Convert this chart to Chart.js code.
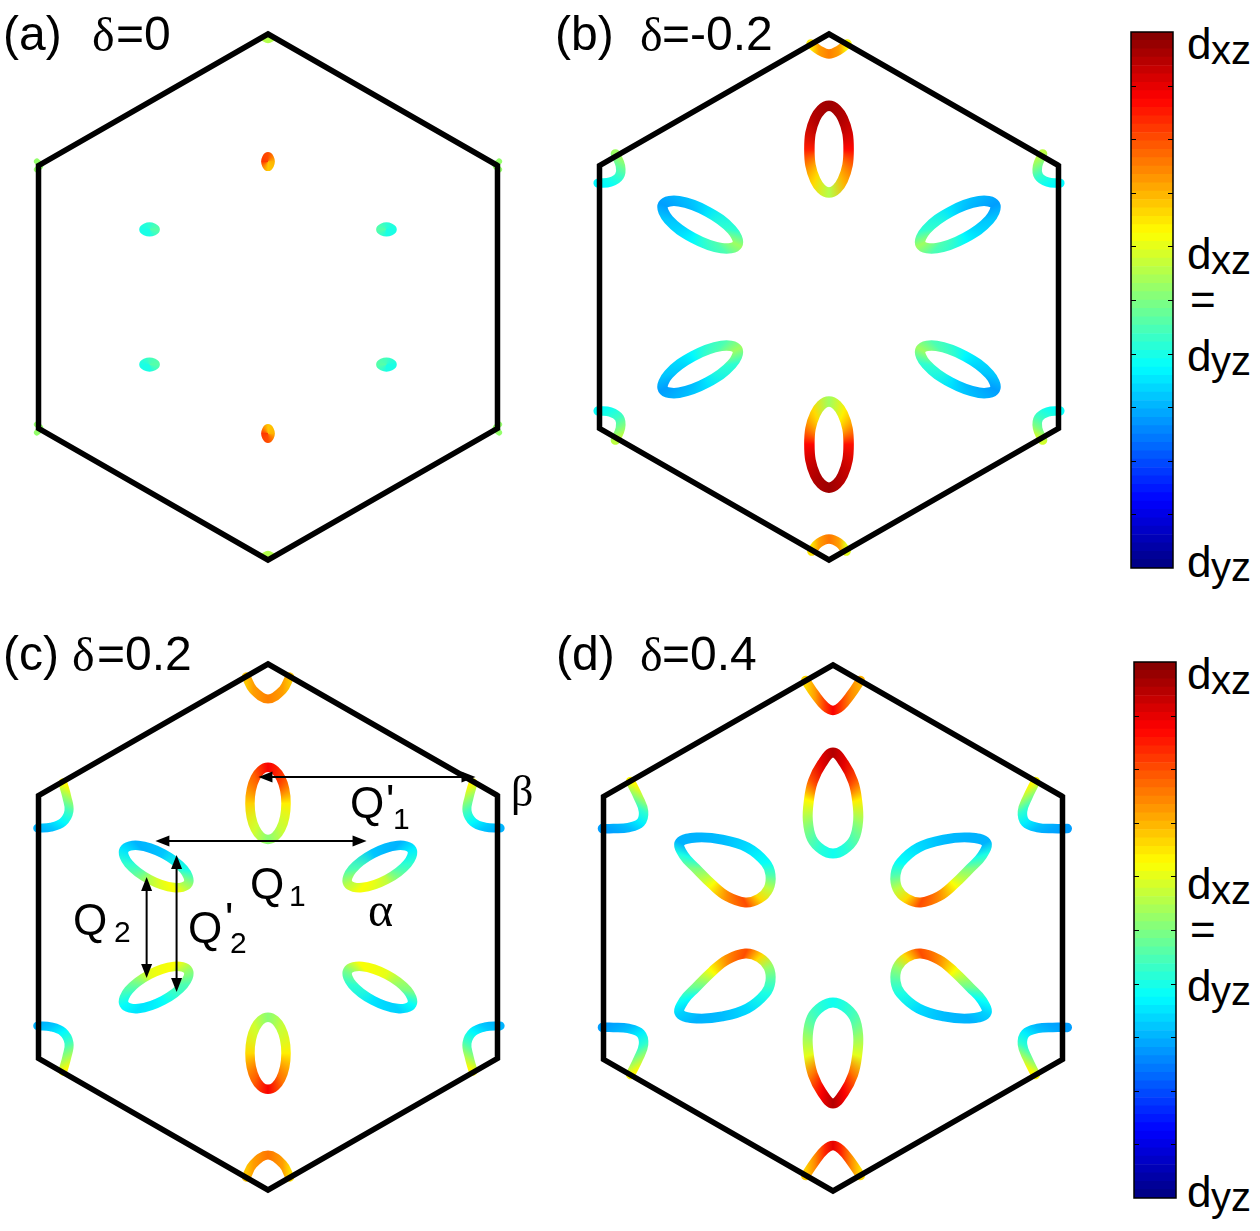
<!DOCTYPE html>
<html><head><meta charset="utf-8"><title>Fermi surfaces</title>
<script src="https://cdn.jsdelivr.net/npm/chart.js@4.4.1/dist/chart.umd.min.js"></script>
<style>
html,body{margin:0;padding:0;background:#fff;}
body{position:relative;width:1260px;height:1231px;overflow:hidden;}
canvas{position:absolute;}
.lbl{position:absolute;white-space:pre;line-height:1;color:#000;}
</style></head><body>
<script>
// ---------- DATA (k-space, zone corner at distance 1; w = orbital weight 0=dyz .. 1=dxz) ----------
const HEX = [[0,1],[0.866,0.5],[0.866,-0.5],[0,-1],[-0.866,-0.5],[-0.866,0.5]];

// (a) delta = 0
const PANEL_A_LOOPS = [
  [[0,0.535,0.80],[0.010,0.515,0.70],[0,0.495,0.68],[-0.010,0.515,0.82]],
  [[0,-0.499,0.68],[0.010,-0.519,0.70],[0,-0.539,0.80],[-0.010,-0.519,0.82]],
  [[-0.470,0.257,0.40],[-0.447,0.268,0.42],[-0.424,0.257,0.46],[-0.447,0.246,0.40]],
  [[0.424,0.257,0.46],[0.447,0.268,0.42],[0.470,0.257,0.40],[0.447,0.246,0.40]],
  [[-0.470,-0.257,0.40],[-0.447,-0.246,0.44],[-0.424,-0.257,0.46],[-0.447,-0.268,0.40]],
  [[0.424,-0.257,0.46],[0.447,-0.246,0.44],[0.470,-0.257,0.40],[0.447,-0.268,0.40]]
];
const PANEL_A_ARCS = [
  [[-0.018,0.985,0.55],[0,0.976,0.55],[0.018,0.985,0.55]],
  [[-0.018,-0.985,0.55],[0,-0.976,0.55],[0.018,-0.985,0.55]],
  [[-0.872,0.515,0.52],[-0.858,0.5,0.52],[-0.872,0.485,0.52]],
  [[0.872,0.515,0.52],[0.858,0.5,0.52],[0.872,0.485,0.52]],
  [[-0.872,-0.485,0.52],[-0.858,-0.5,0.52],[-0.872,-0.515,0.52]],
  [[0.872,-0.485,0.52],[0.858,-0.5,0.52],[0.872,-0.515,0.52]]
];

// (b) delta = -0.2
const PANEL_B_LOOPS = [
  [[0,0.727,0.97],[0.052,0.679,0.95],[0.074,0.562,0.87],[0.052,0.445,0.70],[0,0.397,0.55],[-0.052,0.445,0.66],[-0.074,0.562,0.85],[-0.052,0.679,0.95]],
  [[0,-0.397,0.53],[0.052,-0.445,0.64],[0.074,-0.560,0.86],[0.052,-0.677,0.94],[0,-0.725,0.97],[-0.052,-0.677,0.95],[-0.074,-0.560,0.87],[-0.052,-0.445,0.66]],
  [[-0.346,0.199,0.53],[-0.367,0.256,0.42],[-0.459,0.325,0.35],[-0.566,0.364,0.30],[-0.626,0.351,0.28],[-0.605,0.294,0.32],[-0.513,0.225,0.37],[-0.406,0.186,0.45]],
  [[0.346,0.199,0.53],[0.367,0.256,0.42],[0.459,0.325,0.35],[0.566,0.364,0.30],[0.626,0.351,0.28],[0.605,0.294,0.32],[0.513,0.225,0.37],[0.406,0.186,0.45]],
  [[-0.346,-0.199,0.53],[-0.367,-0.256,0.42],[-0.459,-0.325,0.35],[-0.566,-0.364,0.30],[-0.626,-0.351,0.28],[-0.605,-0.294,0.32],[-0.513,-0.225,0.37],[-0.406,-0.186,0.45]],
  [[0.346,-0.199,0.53],[0.367,-0.256,0.42],[0.459,-0.325,0.35],[0.566,-0.364,0.30],[0.626,-0.351,0.28],[0.605,-0.294,0.32],[0.513,-0.225,0.37],[0.406,-0.186,0.45]]
];
const PANEL_B_ARCS = [
  [[-0.068,0.962,0.64],[-0.038,0.939,0.72],[0,0.924,0.75],[0.038,0.939,0.72],[0.068,0.962,0.62]],
  [[-0.065,-0.966,0.65],[-0.038,-0.935,0.72],[0,-0.920,0.76],[0.038,-0.935,0.72],[0.065,-0.966,0.60]],
  [[-0.871,0.433,0.37],[-0.825,0.437,0.39],[-0.791,0.460,0.43],[-0.787,0.498,0.48],[-0.806,0.544,0.53]],
  [[0.871,0.433,0.37],[0.825,0.437,0.39],[0.791,0.460,0.43],[0.787,0.498,0.50],[0.806,0.544,0.56]],
  [[-0.871,-0.433,0.38],[-0.825,-0.437,0.40],[-0.791,-0.460,0.44],[-0.787,-0.498,0.50],[-0.806,-0.544,0.56]],
  [[0.871,-0.433,0.38],[0.825,-0.437,0.40],[0.791,-0.460,0.44],[0.787,-0.498,0.50],[0.806,-0.544,0.58]]
];

// (c) delta = 0.2
const PANEL_C_LOOPS = [
  [[0,0.607,0.88],[0.048,0.567,0.82],[0.068,0.470,0.64],[0.048,0.373,0.57],[0,0.333,0.51],[-0.048,0.373,0.58],[-0.068,0.470,0.67],[-0.048,0.567,0.78]],
  [[0,-0.343,0.51],[0.048,-0.383,0.57],[0.068,-0.480,0.64],[0.048,-0.577,0.76],[0,-0.617,0.88],[-0.048,-0.577,0.78],[-0.068,-0.480,0.66],[-0.048,-0.383,0.58]],
  [[-0.301,0.166,0.52],[-0.318,0.219,0.40],[-0.396,0.279,0.32],[-0.489,0.310,0.30],[-0.543,0.294,0.35],[-0.526,0.241,0.42],[-0.448,0.181,0.55],[-0.355,0.150,0.62]],
  [[0.301,0.166,0.55],[0.318,0.219,0.45],[0.396,0.279,0.32],[0.489,0.310,0.30],[0.543,0.294,0.36],[0.526,0.241,0.42],[0.448,0.181,0.56],[0.355,0.150,0.62]],
  [[-0.301,-0.166,0.52],[-0.318,-0.219,0.45],[-0.396,-0.279,0.38],[-0.489,-0.310,0.35],[-0.543,-0.294,0.38],[-0.526,-0.241,0.45],[-0.448,-0.181,0.60],[-0.355,-0.150,0.62]],
  [[0.301,-0.166,0.50],[0.318,-0.219,0.42],[0.396,-0.279,0.35],[0.489,-0.310,0.33],[0.543,-0.294,0.38],[0.526,-0.241,0.50],[0.448,-0.181,0.60],[0.355,-0.150,0.62]]
];
const PANEL_C_ARCS = [
  [[-0.082,0.951,0.68],[-0.055,0.901,0.72],[0,0.867,0.75],[0.055,0.901,0.72],[0.082,0.951,0.68]],
  [[-0.082,-0.951,0.68],[-0.055,-0.901,0.72],[0,-0.867,0.76],[0.055,-0.901,0.72],[0.082,-0.951,0.66]],
  [[-0.774,0.548,0.63],[-0.759,0.494,0.53],[-0.751,0.441,0.44],[-0.774,0.399,0.37],[-0.819,0.380,0.32],[-0.869,0.376,0.30]],
  [[0.774,0.548,0.63],[0.759,0.494,0.53],[0.751,0.441,0.44],[0.774,0.399,0.37],[0.819,0.380,0.32],[0.876,0.376,0.30]],
  [[-0.774,-0.548,0.63],[-0.759,-0.494,0.53],[-0.751,-0.441,0.44],[-0.774,-0.399,0.37],[-0.819,-0.380,0.32],[-0.869,-0.376,0.30]],
  [[0.774,-0.548,0.63],[0.759,-0.494,0.53],[0.751,-0.441,0.44],[0.774,-0.399,0.37],[0.819,-0.380,0.32],[0.876,-0.376,0.30]]
];

// (d) delta = 0.4
const PANEL_D_LOOPS = [
  [[0,0.667,0.95],[0.042,0.625,0.90],[0.076,0.557,0.80],[0.091,0.485,0.64],[0.095,0.409,0.53],[0.080,0.340,0.46],[0.042,0.298,0.41],[0,0.283,0.39],[-0.042,0.298,0.41],[-0.080,0.340,0.46],[-0.095,0.409,0.53],[-0.091,0.485,0.63],[-0.076,0.557,0.80],[-0.042,0.625,0.90]],
  [[0,-0.667,0.95],[0.042,-0.625,0.88],[0.076,-0.557,0.76],[0.091,-0.485,0.60],[0.095,-0.409,0.52],[0.080,-0.340,0.45],[0.042,-0.298,0.41],[0,-0.283,0.39],[-0.042,-0.298,0.41],[-0.080,-0.340,0.45],[-0.095,-0.409,0.52],[-0.091,-0.485,0.60],[-0.076,-0.557,0.76],[-0.042,-0.625,0.88]],
  [[-0.578,0.325,0.30],[-0.513,0.344,0.30],[-0.418,0.336,0.31],[-0.323,0.306,0.34],[-0.255,0.249,0.38],[-0.236,0.203,0.45],[-0.243,0.150,0.56],[-0.278,0.112,0.66],[-0.331,0.097,0.80],[-0.399,0.120,0.74],[-0.456,0.165,0.62],[-0.517,0.226,0.50],[-0.563,0.276,0.40]],
  [[0.578,0.325,0.30],[0.513,0.344,0.30],[0.418,0.336,0.31],[0.323,0.306,0.34],[0.255,0.249,0.38],[0.236,0.203,0.45],[0.243,0.150,0.56],[0.278,0.112,0.66],[0.331,0.097,0.80],[0.399,0.120,0.74],[0.456,0.165,0.62],[0.517,0.226,0.50],[0.563,0.276,0.40]],
  [[-0.578,-0.325,0.33],[-0.513,-0.344,0.30],[-0.418,-0.336,0.31],[-0.323,-0.306,0.34],[-0.255,-0.249,0.40],[-0.236,-0.203,0.45],[-0.243,-0.150,0.52],[-0.278,-0.112,0.66],[-0.331,-0.097,0.80],[-0.399,-0.120,0.74],[-0.456,-0.165,0.62],[-0.517,-0.226,0.48],[-0.563,-0.276,0.38]],
  [[0.578,-0.325,0.33],[0.513,-0.344,0.30],[0.418,-0.336,0.31],[0.323,-0.306,0.34],[0.255,-0.249,0.40],[0.236,-0.203,0.45],[0.243,-0.150,0.52],[0.278,-0.112,0.66],[0.331,-0.097,0.80],[0.399,-0.120,0.74],[0.456,-0.165,0.62],[0.517,-0.226,0.48],[0.563,-0.276,0.38]]
];
const PANEL_D_ARCS = [
  [[-0.103,0.941,0.66],[-0.068,0.888,0.72],[-0.030,0.842,0.82],[0,0.827,0.88],[0.030,0.842,0.82],[0.068,0.888,0.74],[0.103,0.941,0.70]],
  [[-0.103,-0.941,0.67],[-0.068,-0.888,0.74],[-0.030,-0.842,0.84],[0,-0.827,0.90],[0.030,-0.842,0.84],[0.068,-0.888,0.74],[0.103,-0.941,0.66]],
  [[-0.764,0.557,0.63],[-0.734,0.496,0.52],[-0.715,0.443,0.42],[-0.726,0.401,0.36],[-0.772,0.382,0.31],[-0.829,0.378,0.29],[-0.870,0.378,0.28]],
  [[0.764,0.557,0.63],[0.734,0.496,0.52],[0.715,0.443,0.42],[0.726,0.401,0.36],[0.772,0.382,0.31],[0.829,0.378,0.29],[0.884,0.378,0.28]],
  [[-0.764,-0.557,0.63],[-0.734,-0.496,0.52],[-0.715,-0.443,0.42],[-0.726,-0.401,0.36],[-0.772,-0.382,0.31],[-0.829,-0.378,0.29],[-0.870,-0.378,0.28]],
  [[0.764,-0.557,0.63],[0.734,-0.496,0.52],[0.715,-0.443,0.42],[0.726,-0.401,0.36],[0.772,-0.382,0.31],[0.829,-0.378,0.29],[0.884,-0.378,0.28]]
];

// nesting vectors drawn in panel (c): [x0, y0, x1, y1]
const ARROWS_C = [
  [-0.036, 0.570, 0.783, 0.570],   // Q'1
  [-0.425, 0.327, 0.372, 0.327],   // Q1
  [-0.458, 0.190, -0.458, -0.194], // Q2
  [-0.345, 0.274, -0.345, -0.247]  // Q'2
];

// colorbar
const CMAP_LEVELS = 64;
const CBAR_TICKS = [0.1,0.2,0.3,0.4,0.5,0.6,0.7,0.8,0.9];

// text: [text, left, baseline, size, serif]
const TEXT_LABELS = [
  ['(a)',3,51,48,0],['δ',92,51,48,1],['=0',116,51,48,0],
  ['(b)',555,51,48,0],['δ',640,51,48,1],['=-0.2',662,51,48,0],
  ['(c)',3,671,48,0],['δ',72,671,48,1],['=0.2',97,671,48,0],
  ['(d)',556,671,48,0],['δ',640,671,48,1],['=0.4',662,671,48,0],
  ['Q',350,818,44,0],["'",386,816,44,0],['1',393,829,30,0],
  ['Q',250,899,44,0],['1',289,906,30,0],
  ['Q',73,935,44,0],['2',114,942,30,0],
  ['Q',188,943,44,0],["'",225,934,44,0],['2',230,953,30,0],
  ['β',511,807,44,1],['α',368,926,48,1]
];
const CBAR_LABELS = [
  ['d',0,59],['xz',24,64],['d',0,269],['xz',24,274],['=',3,315],['d',0,371],['yz',24,375],['d',0,577],['yz',24,581]
];

// ---------- rendering ----------
const SANS = '"Liberation Sans", Arial, sans-serif';
const SERIF = '"Liberation Serif", "Times New Roman", serif';
function clamp(v){return Math.max(0,Math.min(1,v));}
function jet(t){
  t = clamp(t);
  const r = clamp(1.5-Math.abs(4*t-3)), g = clamp(1.5-Math.abs(4*t-2)), b = clamp(1.5-Math.abs(4*t-1));
  return 'rgb('+Math.round(r*255)+','+Math.round(g*255)+','+Math.round(b*255)+')';
}
// colour along a pocket: conic gradient for closed pockets, linear for open arcs
function pocketColor(c){
  const chart = c.chart, ds = chart.data.datasets[c.datasetIndex];
  const xs = chart.scales.x, ys = chart.scales.y;
  if (!ds || !ds.src || !xs || !ys || !chart.ctx) return '#888';
  const P = ds.src.map(p => [xs.getPixelForValue(p[0]), ys.getPixelForValue(p[1]), p[2]]);
  if (P.some(p => !isFinite(p[0]) || !isFinite(p[1]))) return '#888';
  let stops, g;
  if (ds.isLoop) {
    let cx = 0, cy = 0; P.forEach(p => {cx += p[0]; cy += p[1];}); cx /= P.length; cy /= P.length;
    const a0 = Math.atan2(P[0][1]-cy, P[0][0]-cx);
    stops = P.map(p => { let a = Math.atan2(p[1]-cy, p[0]-cx) - a0; while (a < 0) a += 2*Math.PI; while (a >= 2*Math.PI) a -= 2*Math.PI; return [a/(2*Math.PI), p[2]]; });
    g = chart.ctx.createConicGradient(a0, cx, cy);
    stops.sort((s, t) => s[0]-t[0]);
    stops.forEach(s => g.addColorStop(s[0], jet(s[1])));
    g.addColorStop(1, jet(P[0][2]));
  } else {
    const p0 = P[0], p1 = P[P.length-1];
    const dx = p1[0]-p0[0], dy = p1[1]-p0[1], d2 = dx*dx + dy*dy || 1;
    stops = P.map(p => [clamp(((p[0]-p0[0])*dx + (p[1]-p0[1])*dy)/d2), p[2]]);
    stops.sort((s, t) => s[0]-t[0]);
    g = chart.ctx.createLinearGradient(p0[0], p0[1], p1[0], p1[1]);
    stops.forEach(s => g.addColorStop(s[0], jet(s[1])));
  }
  return g;
}
function pocketDataset(arr, lw, loop){
  return {data: arr.map(p => ({x:p[0], y:p[1]})), src: arr, isLoop: loop, showLine: true,
    borderWidth: lw, borderColor: pocketColor, pointRadius: 0, tension: 0.4,
    borderCapStyle: 'round', borderJoinStyle: 'round'};
}
function hexDataset(){
  const seq = HEX.concat([HEX[0], HEX[1]]);
  return {data: seq.map(p => ({x:p[0], y:p[1]})), showLine: true, borderColor: '#000', borderWidth: 5.5,
    pointRadius: 0, tension: 0, borderJoinStyle: 'miter', borderCapStyle: 'butt'};
}
// close the pocket outlines as smooth loops
const loopPlugin = {
  id: 'closeLoops',
  afterDatasetsUpdate(chart){
    chart.data.datasets.forEach((ds, i) => {
      if (!ds.isLoop) return;
      const line = chart.getDatasetMeta(i).dataset;
      if (!line) return;
      line._loop = true; line._fullLoop = true;
      line._pointsUpdated = false; line._segments = undefined; line._path = undefined;
      line.updateControlPoints(chart.chartArea, 'x');
    });
  }
};
const arrowPlugin = {
  id: 'arrows',
  afterDatasetsDraw(chart, args, opts){
    const list = opts.list || [];
    const {ctx, scales:{x, y}} = chart;
    ctx.save(); ctx.strokeStyle = '#000'; ctx.fillStyle = '#000'; ctx.lineWidth = 2;
    list.forEach(a => {
      const x0 = x.getPixelForValue(a[0]), y0 = y.getPixelForValue(a[1]);
      const x1 = x.getPixelForValue(a[2]), y1 = y.getPixelForValue(a[3]);
      const L = Math.hypot(x1-x0, y1-y0), ux = (x1-x0)/L, uy = (y1-y0)/L;
      const hl = 14, hw = 5.5;
      ctx.beginPath(); ctx.moveTo(x0+ux*hl*0.8, y0+uy*hl*0.8); ctx.lineTo(x1-ux*hl*0.8, y1-uy*hl*0.8); ctx.stroke();
      [[x0,y0,-1],[x1,y1,1]].forEach(([px,py,s]) => {
        const bx = px - s*ux*hl, by = py - s*uy*hl;
        ctx.beginPath(); ctx.moveTo(px,py);
        ctx.lineTo(bx - uy*hw, by + ux*hw); ctx.lineTo(bx + uy*hw, by - ux*hw); ctx.closePath(); ctx.fill();
      });
    });
    ctx.restore();
  }
};
const W = 530, H = 570, SX = 265, SY = 263;
const PANELS = [
  {cx:267.5, cy:296.5, loops:PANEL_A_LOOPS, arcs:PANEL_A_ARCS, lw:8.5, alw:6, arrows:[]},
  {cx:829, cy:297, loops:PANEL_B_LOOPS, arcs:PANEL_B_ARCS, lw:10.5, alw:9.5, arrows:[]},
  {cx:267.5, cy:927, loops:PANEL_C_LOOPS, arcs:PANEL_C_ARCS, lw:9.5, alw:9, arrows:ARROWS_C},
  {cx:833, cy:927.5, loops:PANEL_D_LOOPS, arcs:PANEL_D_ARCS, lw:10, alw:9.5, arrows:[]}
];
PANELS.forEach(p => {
  const cv = document.createElement('canvas');
  cv.width = W; cv.height = H;
  cv.style.left = (p.cx - W/2) + 'px'; cv.style.top = (p.cy - H/2) + 'px';
  document.body.appendChild(cv);
  const datasets = [hexDataset()];
  p.loops.forEach(l => datasets.push(pocketDataset(l, p.lw, true)));
  p.arcs.forEach(l => datasets.push(pocketDataset(l, p.alw, false)));
  new Chart(cv, {
    type: 'scatter',
    data: {datasets},
    options: {
      responsive: false, animation: false, events: [], devicePixelRatio: 1,
      layout: {padding: 0},
      plugins: {legend: {display: false}, tooltip: {enabled: false}, arrows: {list: p.arrows}},
      scales: {
        x: {type: 'linear', min: -W/2/SX, max: W/2/SX, display: false},
        y: {type: 'linear', min: -H/2/SY, max: H/2/SY, display: false}
      }
    },
    plugins: [loopPlugin, arrowPlugin]
  });
});

// colorbars
const cbPlugin = {
  id: 'cbframe',
  afterDatasetsDraw(chart){
    const {ctx, chartArea:a, scales:{y}} = chart;
    ctx.save(); ctx.strokeStyle = '#000'; ctx.lineWidth = 1;
    CBAR_TICKS.forEach(v => {
      const py = Math.round(y.getPixelForValue(v)) + 0.5;
      ctx.beginPath(); ctx.moveTo(a.left, py); ctx.lineTo(a.left+5, py);
      ctx.moveTo(a.right-5, py); ctx.lineTo(a.right, py); ctx.stroke();
    });
    ctx.lineWidth = 1.5;
    ctx.strokeRect(a.left, a.top, a.right-a.left, a.bottom-a.top);
    ctx.restore();
  }
};
const CBARS = [{left:1131, top:32, lx:1187}, {left:1134, top:662, lx:1187}];
CBARS.forEach(c => {
  const cv = document.createElement('canvas');
  cv.width = 52; cv.height = 546;
  cv.style.left = (c.left - 5) + 'px'; cv.style.top = (c.top - 5) + 'px';
  document.body.appendChild(cv);
  const datasets = [];
  for (let i = 0; i < CMAP_LEVELS; i++) {
    datasets.push({data: [[i/CMAP_LEVELS, (i+1)/CMAP_LEVELS]], backgroundColor: jet((i+0.5)/CMAP_LEVELS),
      borderWidth: 0, grouped: false, barPercentage: 1, categoryPercentage: 1});
  }
  new Chart(cv, {
    type: 'bar',
    data: {labels: [''], datasets},
    options: {
      responsive: false, animation: false, events: [], devicePixelRatio: 1,
      layout: {padding: {left:5, right:5, top:5, bottom:5}},
      plugins: {legend: {display: false}, tooltip: {enabled: false}},
      scales: {x: {display: false}, y: {min: 0, max: 1, display: false}}
    },
    plugins: [cbPlugin]
  });
  CBAR_LABELS.forEach(l => {
    const sub = l[0].length > 1;
    addLabel(l[0], c.lx + l[1], c.top - 32 + l[2], sub ? 40 : 44, 0);
  });
});

function addLabel(text, left, baseline, size, serif){
  const el = document.createElement('div');
  el.className = 'lbl'; el.textContent = text;
  el.style.fontFamily = serif ? SERIF : SANS;
  el.style.fontSize = size + 'px';
  el.style.left = left + 'px';
  el.style.top = (baseline - (serif ? 0.8375 : 0.847) * size) + 'px';
  document.body.appendChild(el);
}
TEXT_LABELS.forEach(l => addLabel(l[0], l[1], l[2], l[3], l[4]));
</script>
</body></html>
